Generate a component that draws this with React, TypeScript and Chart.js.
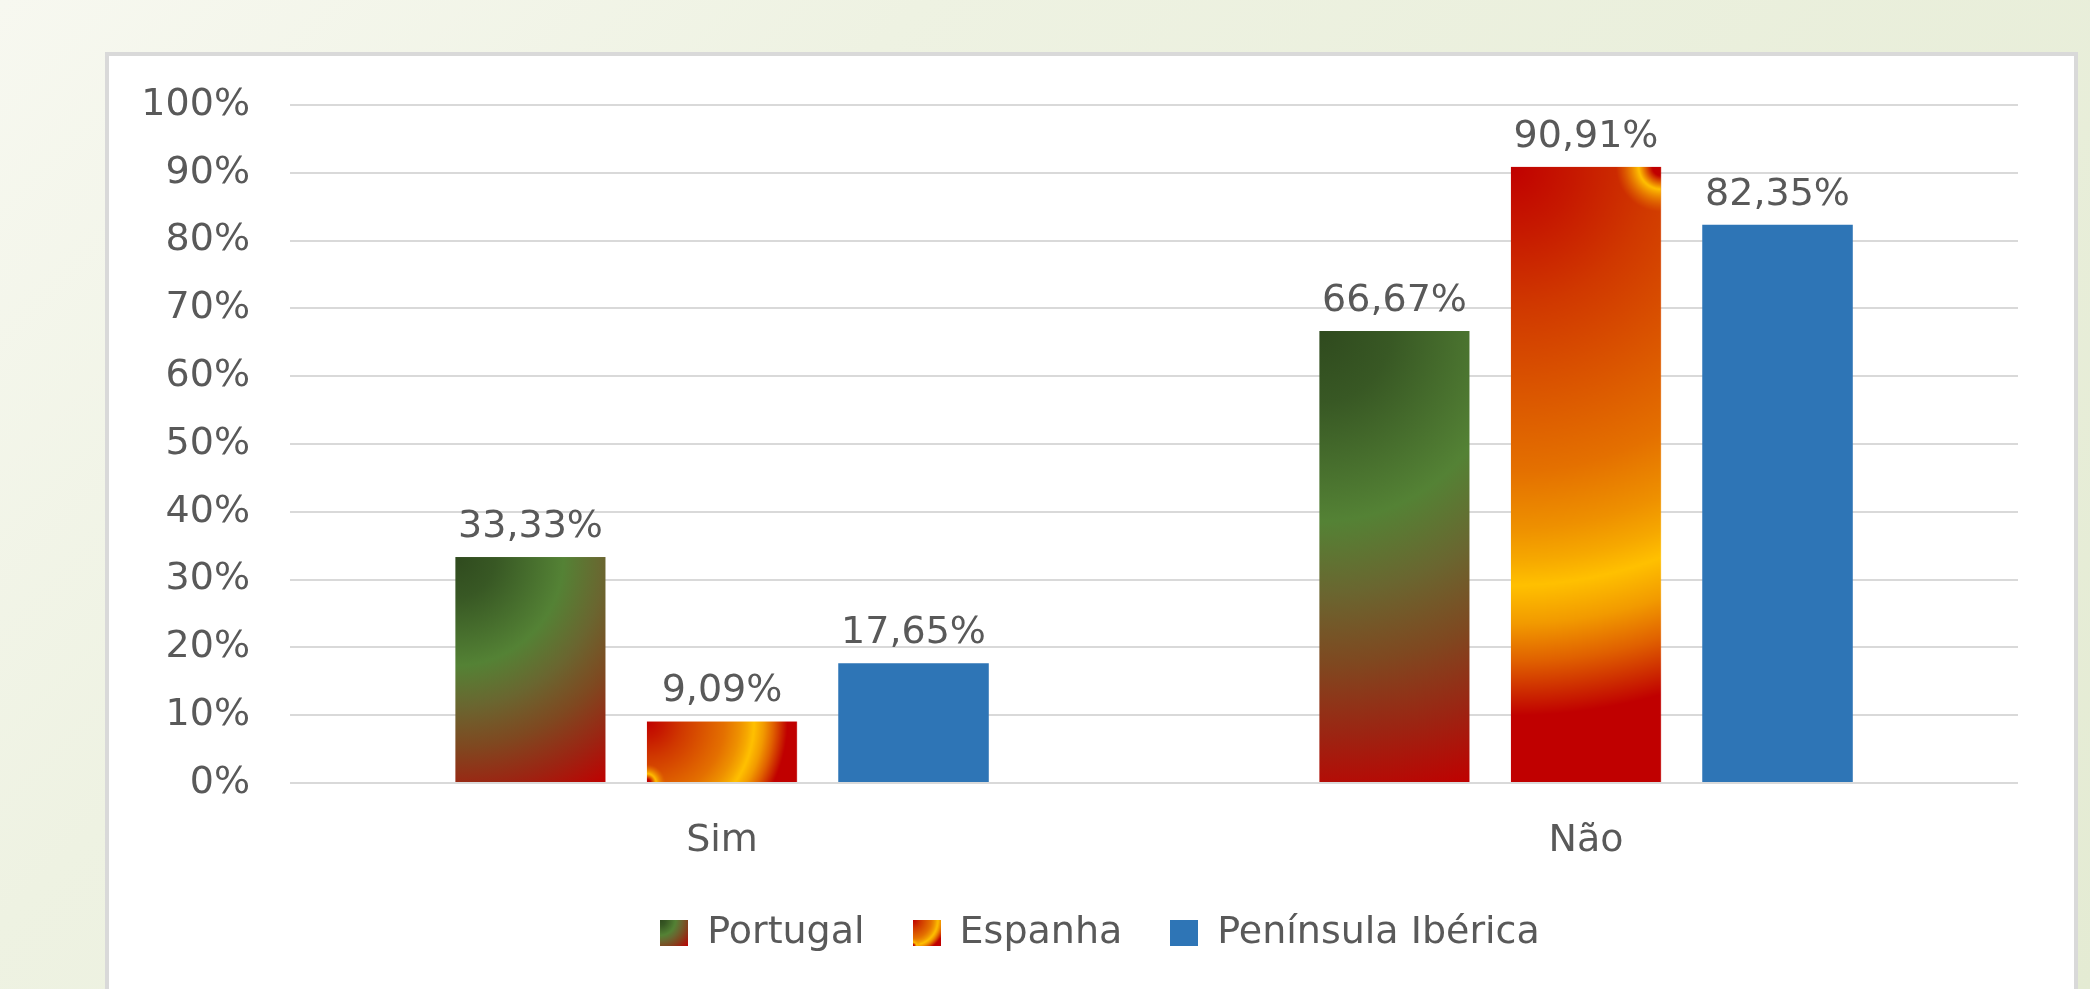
import React, { useEffect, useRef } from 'react';
import { Chart, registerables } from 'chart.js';

Chart.register(...registerables);

const categories = ['Sim', 'Não'];
const seriesNames = ['Portugal', 'Espanha', 'Península Ibérica'];
const portugalValues = [33.33, 66.67];
const espanhaValues = [9.09, 90.91];
const peninsulaValues = [17.65, 82.35];
const yTickValues = [0, 10, 20, 30, 40, 50, 60, 70, 80, 90, 100];

const CAT_PCT = 0.665;
const BAR_PCT = 0.786;
const FONT_FAMILY = '"DejaVu Sans", sans-serif';
const FONT_SIZE = 38;
const TEXT_COLOR = '#595959';
const GRID_COLOR = '#d9d9d9';
const BLUE = '#2e75b6';

type Painter = (c: CanvasRenderingContext2D, w: number, h: number) => void;

const paintPortugal: Painter = (c, w, h) => {
  const d = Math.hypot(w, h);
  const g = c.createRadialGradient(0, 0, 0, 0, 0, d);
  g.addColorStop(0, '#2f4a1e');
  g.addColorStop(0.15, '#385824');
  g.addColorStop(0.4, '#548235');
  g.addColorStop(0.55, '#6a6630');
  g.addColorStop(0.7, '#7f4820');
  g.addColorStop(0.85, '#9c2412');
  g.addColorStop(1, '#c00000');
  c.fillStyle = g;
  c.fillRect(-5, -5, w + 10, h + 10);
};

const paintEspanha: Painter = (c, w, h) => {
  const d = Math.hypot(w, h);
  const g = c.createRadialGradient(0, 0, 0, 0, 0, d);
  g.addColorStop(0, '#c00000');
  g.addColorStop(0.1, '#c61800');
  g.addColorStop(0.22, '#d03800');
  g.addColorStop(0.35, '#da5400');
  g.addColorStop(0.48, '#e47000');
  g.addColorStop(0.57, '#ee9000');
  g.addColorStop(0.62, '#f6a800');
  g.addColorStop(0.66, '#ffc000');
  g.addColorStop(0.72, '#f29a00');
  g.addColorStop(0.78, '#e06000');
  g.addColorStop(0.83, '#cc2800');
  g.addColorStop(0.865, '#c00000');
  g.addColorStop(1, '#c00000');
  c.fillStyle = g;
  c.fillRect(-5, -5, w + 10, h + 10);
  const tall = h >= w;
  const cx = tall ? w : 0;
  const cy = tall ? 0 : h;
  const r = 0.3 * Math.min(w, h);
  const g2 = c.createRadialGradient(cx, cy, 0, cx, cy, r);
  g2.addColorStop(0, '#c00000');
  g2.addColorStop(0.2, '#c00000');
  g2.addColorStop(0.5, 'rgba(255,192,0,1)');
  g2.addColorStop(1, 'rgba(236,130,0,0)');
  c.fillStyle = g2;
  c.fillRect(cx - r, cy - r, 2 * r, 2 * r);
};

const paintBlue: Painter = (c, w, h) => {
  c.fillStyle = BLUE;
  c.fillRect(0, 0, w, h);
};

const painters: Painter[] = [paintPortugal, paintEspanha, paintBlue];

function makeIcon(p: Painter, w: number, h: number) {
  const cv = document.createElement('canvas');
  cv.width = w;
  cv.height = h;
  const c = cv.getContext('2d') as CanvasRenderingContext2D;
  c.save();
  c.beginPath();
  c.rect(0, 0, w, h);
  c.clip();
  p(c, w, h);
  c.restore();
  return cv;
}

function barFill(painter: Painter, fallback: string) {
  return (ctx: any) => {
    if (ctx.type !== 'data') return fallback;
    const chart = ctx.chart;
    const xs = chart.scales.x;
    const ys = chart.scales.y;
    if (!xs || !ys || !chart.chartArea) return fallback;
    const n = chart.data.labels.length;
    const nsets = chart.data.datasets.length;
    const cat = (xs.right - xs.left) / n;
    const slot = (cat * CAT_PCT) / nsets;
    const bw = slot * BAR_PCT;
    const cx = xs.getPixelForValue(ctx.dataIndex) + (ctx.datasetIndex - (nsets - 1) / 2) * slot;
    const top = ys.getPixelForValue(ctx.raw);
    const base = ys.getPixelForValue(0);
    const w = Math.max(1, bw);
    const h = Math.max(1, base - top);
    const m = 4;
    const off = document.createElement('canvas');
    off.width = Math.ceil(w) + 2 * m;
    off.height = Math.ceil(h) + 2 * m;
    const oc = off.getContext('2d') as CanvasRenderingContext2D;
    oc.translate(m, m);
    oc.save();
    oc.beginPath();
    oc.rect(0, 0, w, h);
    oc.clip();
    painter(oc, w, h);
    oc.restore();
    const pat = chart.ctx.createPattern(off, 'no-repeat');
    if (!pat) return fallback;
    pat.setTransform(new DOMMatrix().translate(cx - bw / 2 - m, top - m));
    return pat;
  };
}

const valueLabels = {
  id: 'valueLabels',
  afterDatasetsDraw(chart: any) {
    const c = chart.ctx;
    c.save();
    c.font = `${FONT_SIZE}px ${FONT_FAMILY}`;
    c.fillStyle = TEXT_COLOR;
    c.textAlign = 'center';
    c.textBaseline = 'alphabetic';
    chart.data.datasets.forEach((ds: any, di: number) => {
      const meta = chart.getDatasetMeta(di);
      meta.data.forEach((el: any, i: number) => {
        const v = ds.data[i] as number;
        const txt = v.toFixed(2).replace('.', ',') + '%';
        c.fillText(txt, el.x, el.y - 20);
      });
    });
    c.restore();
  },
};

const legendShift = {
  id: 'legendShift',
  afterLayout(chart: any) {
    if (chart.legend) {
      chart.legend.left = 17;
      chart.legend.right = chart.width;
    }
  },
};

export default function App() {
  const ref = useRef<HTMLCanvasElement | null>(null);

  useEffect(() => {
    if (!ref.current) return;
    const icons = painters.map((p) => makeIcon(p, 28, 26));
    const chart = new Chart(ref.current, {
      type: 'bar',
      data: {
        labels: categories,
        datasets: [
          { label: seriesNames[0], data: portugalValues, backgroundColor: barFill(paintPortugal, '#548235') as any },
          { label: seriesNames[1], data: espanhaValues, backgroundColor: barFill(paintEspanha, '#ed7d31') as any },
          { label: seriesNames[2], data: peninsulaValues, backgroundColor: BLUE },
        ],
      },
      options: {
        responsive: false,
        animation: false,
        devicePixelRatio: 1,
        layout: { padding: { top: 49, right: 56, left: 0, bottom: 0 } },
        datasets: {
          bar: { categoryPercentage: CAT_PCT, barPercentage: BAR_PCT, borderWidth: 0 },
        },
        scales: {
          x: {
            grid: { display: false },
            border: { display: false },
            ticks: { color: TEXT_COLOR, font: { family: FONT_FAMILY, size: FONT_SIZE }, padding: 27 },
            afterFit: (s: any) => {
              s.height = 83;
              s.paddingLeft = 0;
              s.paddingRight = 0;
              s._computeLabelArea = () => undefined;
            },
          },
          y: {
            min: 0,
            max: 100,
            afterBuildTicks: (s: any) => {
              s.ticks = yTickValues.map((v) => ({ value: v }));
            },
            grid: { color: GRID_COLOR, lineWidth: 2, drawTicks: false },
            border: { display: false },
            ticks: {
              color: TEXT_COLOR,
              font: { family: FONT_FAMILY, size: FONT_SIZE },
              padding: 40,
              callback: (v: any) => `${v}%`,
            },
            afterFit: (s: any) => {
              s.width = 181;
              s.paddingTop = 0;
              s.paddingBottom = 0;
            },
          },
        },
        plugins: {
          tooltip: { enabled: false },
          legend: {
            position: 'bottom',
            align: 'center',
            labels: {
              usePointStyle: true,
              pointStyleWidth: 28,
              boxWidth: 28,
              boxHeight: 26,
              padding: 48,
              color: TEXT_COLOR,
              font: { family: FONT_FAMILY, size: FONT_SIZE },
              generateLabels: () =>
                seriesNames.map((name, i) => ({
                  text: name,
                  fillStyle: i === 2 ? BLUE : '#888',
                  strokeStyle: 'rgba(0,0,0,0)',
                  lineWidth: 0,
                  pointStyle: icons[i] as any,
                  hidden: false,
                  datasetIndex: i,
                  fontColor: TEXT_COLOR,
                })),
            },
          },
        },
      },
      plugins: [valueLabels, legendShift],
    });
    return () => chart.destroy();
  }, []);

  return (
    <div
      style={{
        position: 'fixed',
        left: 0,
        top: 0,
        width: '100vw',
        height: '100vh',
        overflow: 'hidden',
        background: 'linear-gradient(135deg, #f7f8f0 0%, #eef2e2 30%, #e4ebd3 100%)',
      }}
    >
      <div
        style={{
          position: 'absolute',
          left: 105,
          top: 52,
          width: 1965,
          height: 1000,
          background: '#ffffff',
          border: '4px solid #d9d9d9',
          borderBottom: 'none',
        }}
      >
        <canvas ref={ref} width={1965} height={906} style={{ display: 'block' }} />
      </div>
    </div>
  );
}
